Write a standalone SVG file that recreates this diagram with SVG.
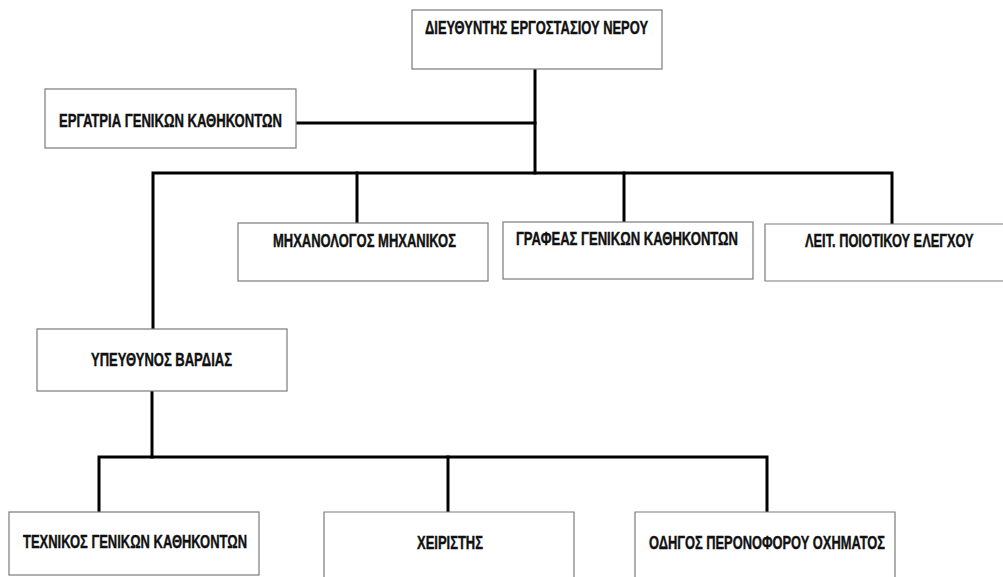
<svg xmlns="http://www.w3.org/2000/svg" width="1003" height="577" viewBox="0 0 1003 577">
  <style>
    .box { fill: #ffffff; stroke: #7a7a7a; stroke-width: 1.2; }
    .lbl { font-family: "Liberation Sans", Arial, sans-serif; font-weight: bold; font-size: 18px; fill: #111111; stroke: #111111; stroke-width: 0.4; }
    .wire { fill: none; stroke: #000000; stroke-width: 3; stroke-linejoin: miter; stroke-linecap: square; }
  </style>
  <rect x="0" y="0" width="1003" height="577" fill="#ffffff"/>

  <!-- reporting lines -->
  <g id="connectors" class="wire">
    <path d="M535 70 V173"/>
    <path d="M297 123 H535"/>
    <path d="M153 329 V173 H892 V223"/>
    <path d="M357 173 V222"/>
    <path d="M624 173 V221"/>
    <path d="M152 392 V457"/>
    <path d="M99 511 V457 H767 V511"/>
    <path d="M448 457 V511"/>
  </g>

  <g id="director">
    <rect class="box" x="412" y="10" width="250" height="59"/>
    <text class="lbl" x="425" y="34" font-size="17" textLength="223" lengthAdjust="spacingAndGlyphs">ΔΙΕΥΘΥΝΤΗΣ ΕΡΓΟΣΤΑΣΙΟΥ ΝΕΡΟΥ</text>
  </g>

  <g id="general-worker">
    <rect class="box" x="45" y="89" width="251" height="59"/>
    <text class="lbl" x="59" y="127" font-size="19" textLength="223" lengthAdjust="spacingAndGlyphs">ΕΡΓΑΤΡΙΑ ΓΕΝΙΚΩΝ ΚΑΘΗΚΟΝΤΩΝ</text>
  </g>

  <g id="mechanical-engineer">
    <rect class="box" x="238" y="223" width="250" height="58"/>
    <text class="lbl" x="273" y="247" textLength="183" lengthAdjust="spacingAndGlyphs">ΜΗΧΑΝΟΛΟΓΟΣ ΜΗΧΑΝΙΚΟΣ</text>
  </g>

  <g id="clerk">
    <rect class="box" x="503" y="222" width="250" height="57"/>
    <text class="lbl" x="516" y="245" textLength="222" lengthAdjust="spacingAndGlyphs">ΓΡΑΦΕΑΣ ΓΕΝΙΚΩΝ ΚΑΘΗΚΟΝΤΩΝ</text>
  </g>

  <g id="quality-control">
    <!-- box runs past the right edge of the sheet -->
    <path class="box" d="M1003 224 H765 V281 H1003"/>
    <text class="lbl" transform="translate(805 247) scale(0.712 1)">ΛΕΙΤ. ΠΟΙΟΤΙΚΟΥ ΕΛΕΓΧΟΥ</text>
  </g>

  <g id="shift-supervisor">
    <rect class="box" x="37" y="329" width="250" height="62"/>
    <text class="lbl" x="91" y="366" textLength="141" lengthAdjust="spacingAndGlyphs">ΥΠΕΥΘΥΝΟΣ ΒΑΡΔΙΑΣ</text>
  </g>

  <g id="technician">
    <rect class="box" x="9" y="512" width="250" height="63"/>
    <text class="lbl" x="23" y="548" textLength="224" lengthAdjust="spacingAndGlyphs">ΤΕΧΝΙΚΟΣ ΓΕΝΙΚΩΝ ΚΑΘΗΚΟΝΤΩΝ</text>
  </g>

  <g id="operator">
    <path class="box" d="M324 577 V512 H574 V577"/>
    <text class="lbl" x="417" y="549" textLength="66" lengthAdjust="spacingAndGlyphs">ΧΕΙΡΙΣΤΗΣ</text>
  </g>

  <g id="forklift-driver">
    <path class="box" d="M635 577 V512 H895 V577"/>
    <text class="lbl" x="649" y="549" textLength="236" lengthAdjust="spacingAndGlyphs">ΟΔΗΓΟΣ ΠΕΡΟΝΟΦΟΡΟΥ ΟΧΗΜΑΤΟΣ</text>
  </g>
</svg>
